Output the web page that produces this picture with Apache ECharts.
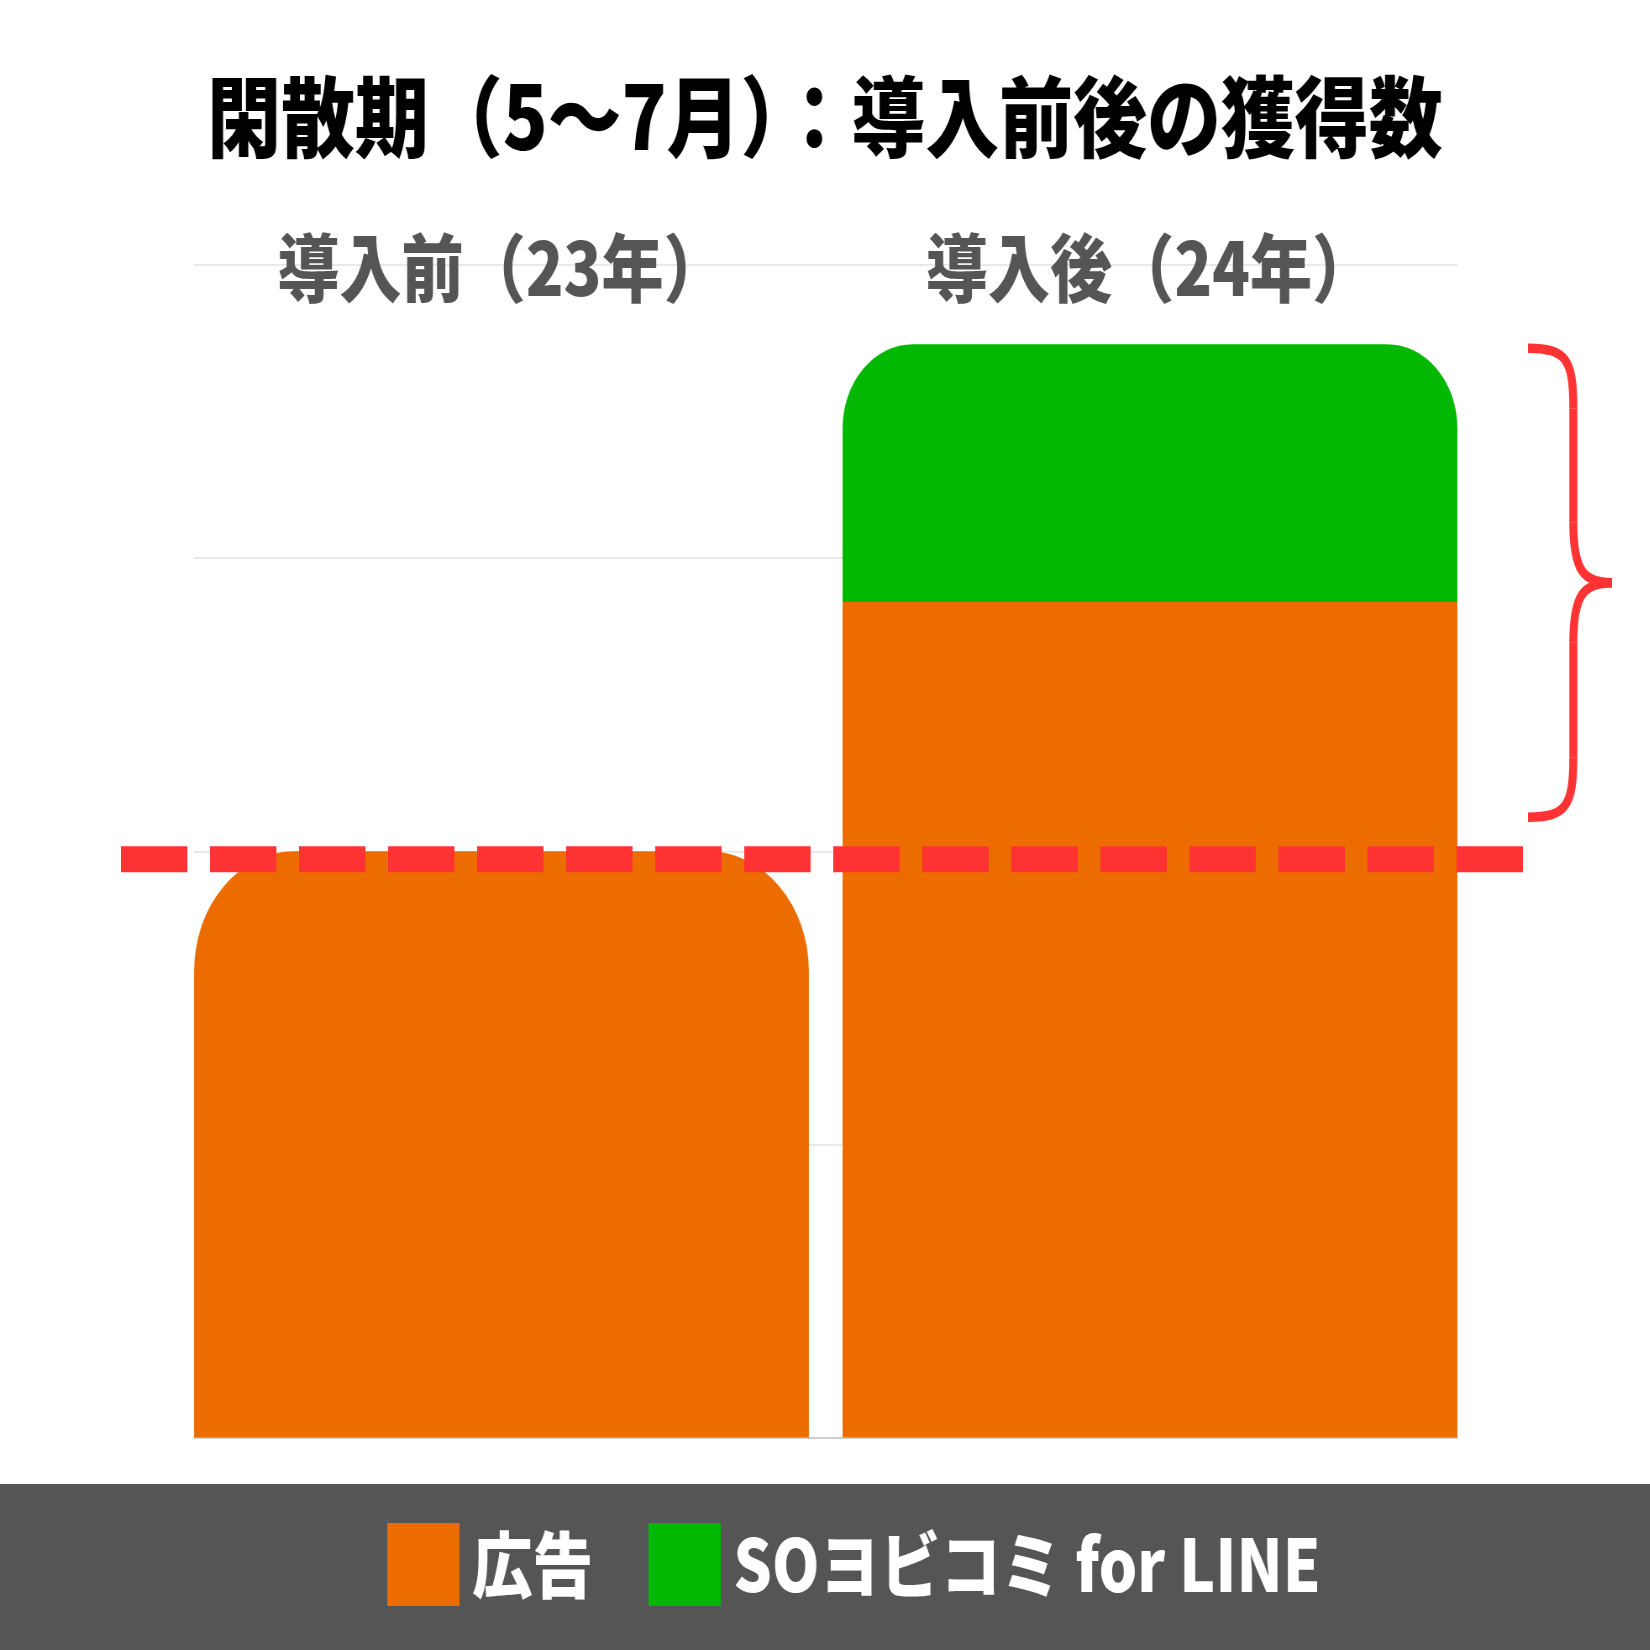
<!DOCTYPE html>
<html lang="ja">
<head>
    <meta charset="UTF-8">
    <title>閑散期（5〜7月）：導入前後の獲得数</title>
    <script src="https://cdn.jsdelivr.net/npm/echarts@6/dist/echarts.min.js"></script>
    <style>
        html, body { margin: 0; padding: 0; overflow: hidden; background: #fff; }
        /* chart is drawn wide then squeezed, like the condensed original */
        #main { width: 1964px; height: 1650px; transform: scaleX(0.84); transform-origin: 0 0; }
    </style>
</head>
<body>
    <div id="main"></div>
    <script>
        // data
        var categories = ['導入前（23年）', '導入後（24年）'];
        var seriesNames = ['広告', 'SOヨビコミ for LINE'];
        var adValues = [2.0, 2.85];
        var lineValues = [null, 0.88];
        var yMin = 0, yMax = 4, yStep = 1;

        var ORANGE = '#EC6C00';
        var GREEN = '#03B803';
        var RED = '#FF3333';
        var FONT = '"Noto Sans CJK JP", "Noto Sans", sans-serif';

        var myChart = echarts.init(document.getElementById('main'));

        var adData = adValues.map(function (v, i) {
            return { value: v, itemStyle: { borderRadius: i === 0 ? [120, 120, 0, 0] : 0 } };
        });
        var lineData = lineValues.map(function (v) {
            return v == null ? '-' : { value: v, itemStyle: { borderRadius: [84, 84, 0, 0] } };
        });

        var option = {
            backgroundColor: '#fff',
            animation: false,
            textStyle: { fontFamily: FONT },
            title: {
                text: '閑散期（5〜7月）：導入前後の獲得数',
                left: 'center',
                top: 68,
                textStyle: { fontSize: 88, fontWeight: 900, color: '#000', fontFamily: FONT }
            },
            legend: {
                data: seriesNames,
                left: 456,
                top: 1518,
                icon: 'rect',
                itemWidth: 86,
                itemHeight: 83,
                itemGap: 66,
                selectedMode: false,
                textStyle: { color: '#fff', fontSize: 72, fontWeight: 900, fontFamily: FONT, padding: [0, 0, 0, 10] }
            },
            grid: [
                // bars
                { left: 211, right: 209, top: 265, bottom: 212.5 },
                // grid lines only
                { left: 231, right: 229, top: 265, bottom: 212.5 }
            ],
            xAxis: [
                {
                    type: 'category',
                    gridIndex: 0,
                    position: 'top',
                    data: categories,
                    axisLine: { show: false },
                    axisTick: { show: false },
                    axisLabel: {
                        margin: -3,
                        verticalAlign: 'middle',
                        color: '#555',
                        fontSize: 74,
                        fontWeight: 900,
                        fontFamily: FONT
                    }
                },
                {
                    type: 'category',
                    gridIndex: 1,
                    data: categories,
                    axisLine: { show: true, lineStyle: { color: '#cfcfcf', width: 2 } },
                    axisTick: { show: false },
                    axisLabel: { show: false }
                }
            ],
            yAxis: [
                { type: 'value', gridIndex: 0, min: yMin, max: yMax, interval: yStep, show: false },
                {
                    type: 'value', gridIndex: 1, min: yMin, max: yMax, interval: yStep,
                    axisLine: { show: false },
                    axisTick: { show: false },
                    axisLabel: { show: false },
                    splitLine: { show: true, lineStyle: { color: '#e2e2e2', width: 1.5 } }
                }
            ],
            series: [
                {
                    name: seriesNames[0],
                    type: 'bar',
                    stack: 'total',
                    xAxisIndex: 0,
                    yAxisIndex: 0,
                    barWidth: '94.8%',
                    itemStyle: { color: ORANGE },
                    data: adData
                },
                {
                    name: seriesNames[1],
                    type: 'bar',
                    stack: 'total',
                    xAxisIndex: 0,
                    yAxisIndex: 0,
                    barWidth: '94.8%',
                    itemStyle: { color: GREEN },
                    data: lineData
                }
            ]
        };

        myChart.setOption(option);

        // reference line, brace and legend band, placed from the y scale
        var py = function (v) { return myChart.convertToPixel({ yAxisIndex: 0 }, v); };
        var baseY = py(adValues[0]) + 8;
        var topY = py(adValues[1] + lineValues[1]) + 4;
        var botY = py(adValues[0]) - 34;
        var midY = (topY + botY) / 2;
        var x0 = 1819, x1 = 1873, x2 = 1919, r = 60;
        var braceStyle = { fill: 'none', stroke: RED, lineWidth: 9.5 };

        function curve(ax, ay, c1x, c1y, c2x, c2y, bx, by) {
            return {
                type: 'bezierCurve', z: 100,
                shape: { x1: ax, y1: ay, cpx1: c1x, cpy1: c1y, cpx2: c2x, cpy2: c2y, x2: bx, y2: by },
                style: braceStyle
            };
        }
        function seg(ax, ay, bx, by) {
            return { type: 'line', z: 100, shape: { x1: ax, y1: ay, x2: bx, y2: by }, style: braceStyle };
        }

        myChart.setOption({
            graphic: [
                {
                    type: 'rect',
                    z: -1,
                    shape: { x: 0, y: 1484, width: 1964, height: 166 },
                    style: { fill: '#555555' }
                },
                {
                    type: 'line',
                    z: 100,
                    shape: { x1: 144, y1: baseY, x2: 1819, y2: baseY },
                    style: { stroke: RED, lineWidth: 26, lineDash: [79, 27] }
                },
                curve(x0, topY, x1 - 8, topY, x1, topY + 12, x1, topY + r),
                seg(x1, topY + r, x1, midY - r),
                curve(x1, midY - r, x1, midY - 12, x1 + 12, midY, x2, midY),
                curve(x2, midY, x1 + 12, midY, x1, midY + 12, x1, midY + r),
                seg(x1, midY + r, x1, botY - r),
                curve(x1, botY - r, x1, botY - 12, x1 - 8, botY, x0, botY)
            ]
        });
    </script>
</body>
</html>
